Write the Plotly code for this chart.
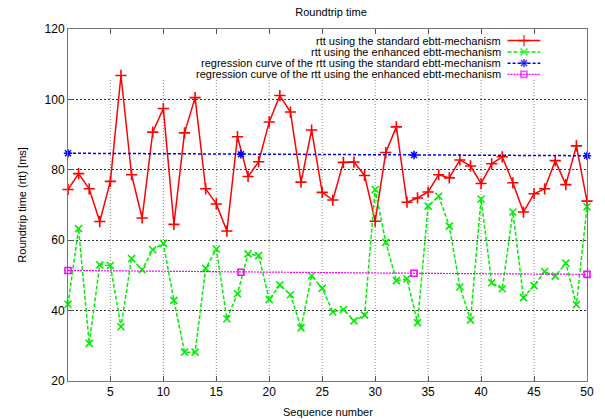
import plotly.graph_objects as go

# ---------------- data ----------------
seq = list(range(1, 51))
rtt_standard = [74.4, 78.9, 74.6, 65.3, 76.7, 106.8, 78.6, 66.3, 90.7, 97.4,
                64.5, 90.5, 100.5, 74.6, 70.3, 62.6, 89.4, 78.1, 82.3, 93.6,
                101.1, 96.4, 76.5, 91.3, 73.6, 71.4, 82.1, 82.2, 78.4, 65.4,
                84.9, 92.2, 70.8, 72.0, 73.7, 78.6, 77.7, 82.8, 81.1, 76.1,
                81.7, 83.7, 76.3, 68.0, 73.2, 74.6, 82.6, 75.8, 86.8, 71.1]
rtt_enhanced = [41.8, 63.3, 30.7, 53.0, 52.8, 35.4, 54.8, 51.6, 57.3, 59.1,
                42.9, 28.2, 28.2, 52.0, 57.5, 37.7, 44.8, 56.1, 55.6, 43.1,
                47.3, 44.5, 35.1, 49.9, 46.4, 39.6, 40.3, 37.1, 38.7, 74.4,
                59.4, 48.5, 49.0, 36.6, 69.7, 72.5, 64.0, 46.7, 37.3, 71.7,
                47.9, 46.2, 68.0, 43.7, 47.1, 51.1, 49.8, 53.5, 41.7, 69.5]
reg_x = [1, 17.33, 33.67, 50]
reg_standard = [84.7, 84.4, 84.2, 84.0]
reg_enhanced = [51.4, 50.9, 50.6, 50.3]

x_ticks = [5, 10, 15, 20, 25, 30, 35, 40, 45, 50]
y_ticks = [20, 40, 60, 80, 100, 120]

labels = ["rtt using the standard ebtt-mechanism",
          "rtt using the enhanced ebtt-mechanism",
          "regression curve of the rtt using the standard ebtt-mechanism",
          "regression curve of the rtt using the enhanced ebtt-mechanism"]

# ---------------- styles ----------------
FONT = "Liberation Sans, Arial, sans-serif"
styles = [
    dict(color="#ff0000", dash="solid", width=1.5, symbol="cross-thin-open", size=8),
    dict(color="#00ee00", dash="4px,2px", width=1.5, symbol="x-thin-open", size=7),
    dict(color="#0000ff", dash="3px,2px", width=1.5, symbol="asterisk-open", size=7),
    dict(color="#ff00ff", dash="2px,1px", width=1.2, symbol="square-open", size=6),
]
series = [(seq, rtt_standard), (seq, rtt_enhanced),
          (reg_x, reg_standard), (reg_x, reg_enhanced)]

fig = go.Figure()
for (xs, ys), st, lab in zip(series, styles, labels):
    fig.add_trace(go.Scatter(
        x=xs, y=ys, mode="lines+markers", name=lab, showlegend=False,
        line=dict(color=st["color"], dash=st["dash"], width=st["width"]),
        marker=dict(symbol=st["symbol"], size=st["size"], color=st["color"],
                    line=dict(color=st["color"], width=1.6)),
        cliponaxis=False))

# ---------------- custom key (gnuplot style: text right, sample left) -------
key_text_x = 0.838
key_x0, key_x1 = 0.847, 0.910
key_y0, key_dy = 0.967, 0.032
for i, (st, lab) in enumerate(zip(styles, labels)):
    ky = key_y0 - i * key_dy
    fig.add_trace(go.Scatter(
        x=[key_x0, (key_x0 + key_x1) / 2, key_x1], y=[ky, ky, ky],
        xaxis="x2", yaxis="y2", mode="lines+markers", showlegend=False,
        hoverinfo="skip",
        line=dict(color=st["color"], dash=st["dash"], width=st["width"]),
        marker=dict(symbol=st["symbol"], size=[0, st["size"], 0], color=st["color"],
                    line=dict(color=st["color"], width=1.6))))
    fig.add_annotation(xref="paper", yref="paper", x=key_text_x, y=ky,
                       text=lab, showarrow=False, xanchor="right", yanchor="middle",
                       font=dict(family=FONT, size=11, color="#000"))

# ---------------- grid (vertical lines stop below the key) ----------------
grid_top = 105.5
for xv in x_ticks[:-1]:
    fig.add_shape(type="line", xref="x", yref="y", x0=xv, x1=xv, y0=20, y1=grid_top,
                  line=dict(color="#888", width=1, dash="1px,2px"), layer="below")

fig.update_layout(
    width=605, height=420,
    margin=dict(l=68, r=11, t=29, b=39),
    paper_bgcolor="white", plot_bgcolor="white",
    font=dict(family=FONT, size=11, color="#000"),
    title=dict(text="Roundtrip time", x=331 / 605, xanchor="center",
               y=1 - 12 / 420, yanchor="middle", yref="container",
               font=dict(family=FONT, size=11, color="#000")),
    xaxis=dict(range=[1, 50], tickvals=x_ticks, ticks="inside", ticklen=5,
               tickcolor="#555", showgrid=False, zeroline=False,
               showline=True, linecolor="#777", linewidth=1, mirror="allticks",
               tickfont=dict(family=FONT, size=12)),
    yaxis=dict(range=[20, 120], tickvals=y_ticks, ticks="inside", ticklen=5,
               tickcolor="#555", showgrid=True, gridcolor="#333", griddash="2px,2px",
               gridwidth=1, zeroline=False,
               showline=True, linecolor="#777", linewidth=1, mirror=True,
               tickfont=dict(family=FONT, size=12)),
    xaxis2=dict(range=[0, 1], overlaying="x", visible=False),
    yaxis2=dict(range=[0, 1], overlaying="y", visible=False),
)

fig.add_annotation(xref="paper", yref="paper", x=0.5, y=(381 - 412) / 352,
                   text="Sequence number", showarrow=False,
                   xanchor="center", yanchor="middle",
                   font=dict(family=FONT, size=11))
fig.add_annotation(xref="paper", yref="paper", x=(21 - 68) / 526, y=0.5,
                   text="Roundtrip time (rtt) [ms]", showarrow=False, textangle=-90,
                   xanchor="center", yanchor="middle",
                   font=dict(family=FONT, size=11))

fig.write_html("out.html", config={"displayModeBar": False},
               post_script="document.body.style.margin='0';document.body.style.overflow='hidden';")
